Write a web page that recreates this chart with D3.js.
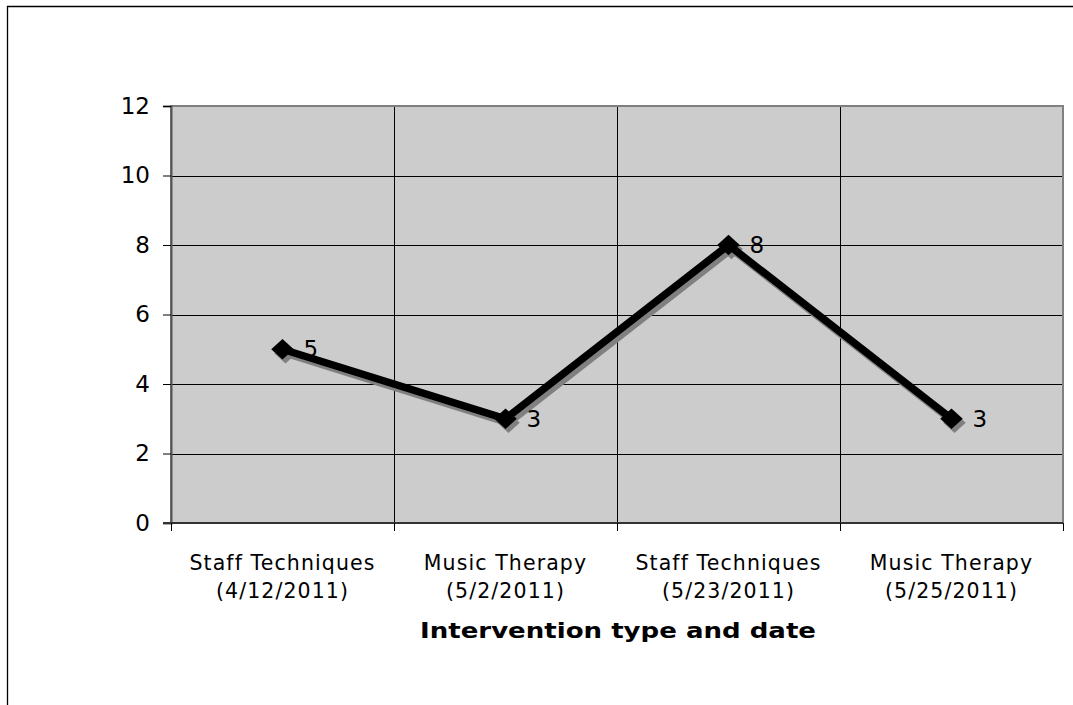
<html>
<head>
<script src="https://d3js.org/d3.v7.min.js"></script>
<style>
body { margin: 0; background: #fff; }
svg { font-family: "DejaVu Sans", Verdana, sans-serif; }
</style>
</head>
<body>
<div id="root"></div>
<script>
// datos del grafico
var categorias = ["Staff Techniques", "Music Therapy", "Staff Techniques", "Music Therapy"];
var fechas = ["(4/12/2011)", "(5/2/2011)", "(5/23/2011)", "(5/25/2011)"];
var valores = [5, 3, 8, 3];
var yTicks = [0, 2, 4, 6, 8, 10, 12];
var tituloX = "Intervention type and date";

var W = 1073, H = 705;
var pLeft = 171, pRight = 1063, pTop = 106, pBottom = 523;

var svg = d3.select("#root").append("svg")
  .attr("width", W).attr("height", H);

// marco exterior
svg.append("path")
  .attr("d", "M7.5," + H + "V6.5H" + W)
  .attr("fill", "none").attr("stroke", "#000").attr("stroke-width", 1.3);

var x = d3.scaleBand().domain(d3.range(valores.length)).range([pLeft, pRight]);
var y = d3.scaleLinear().domain([0, 12]).range([pBottom, pTop]);

// area de trazado
svg.append("rect")
  .attr("x", pLeft).attr("y", pTop)
  .attr("width", pRight - pLeft).attr("height", pBottom - pTop)
  .attr("fill", "#cccccc");

// lineas de cuadricula
svg.append("g").selectAll("line").data(yTicks.slice(1)).enter().append("line")
  .attr("x1", pLeft).attr("x2", pRight)
  .attr("y1", d => Math.round(y(d)) + 0.5).attr("y2", d => Math.round(y(d)) + 0.5)
  .attr("stroke", "#000").attr("stroke-width", 1);

svg.append("g").selectAll("line").data(d3.range(1, valores.length)).enter().append("line")
  .attr("x1", d => Math.round(x(d)) + 0.5).attr("x2", d => Math.round(x(d)) + 0.5)
  .attr("y1", pTop).attr("y2", pBottom)
  .attr("stroke", "#000").attr("stroke-width", 1);

// borde gris
svg.append("rect")
  .attr("x", pLeft).attr("y", pTop)
  .attr("width", pRight - pLeft).attr("height", pBottom - pTop)
  .attr("fill", "none").attr("stroke", "#808080").attr("stroke-width", 2);

// eje y
var yAxis = d3.axisLeft(y).tickValues(yTicks).tickSize(8).tickPadding(13);
svg.append("g")
  .attr("transform", "translate(" + pLeft + ",0)")
  .call(yAxis)
  .call(g => g.select(".domain").attr("stroke", "#555").attr("stroke-width", 2))
  .call(g => g.selectAll(".tick line").attr("stroke", "#000"))
  .call(g => g.selectAll("text").attr("font-size", 23).attr("fill", "#000")
    .attr("font-family", "DejaVu Sans, Verdana, sans-serif"));

// eje x
svg.append("line")
  .attr("x1", pLeft - 8).attr("x2", pRight)
  .attr("y1", pBottom).attr("y2", pBottom)
  .attr("stroke", "#333").attr("stroke-width", 2);
svg.append("g").selectAll("line").data(d3.range(0, valores.length + 1)).enter().append("line")
  .attr("x1", d => Math.round(d < valores.length ? x(d) : pRight) + 0.5)
  .attr("x2", d => Math.round(d < valores.length ? x(d) : pRight) + 0.5)
  .attr("y1", pBottom).attr("y2", pBottom + 8)
  .attr("stroke", "#000");

var cat = svg.append("g").selectAll("text").data(categorias).enter().append("text")
  .attr("text-anchor", "middle")
  .attr("font-size", 20.5)
  .attr("letter-spacing", 1.1)
  .attr("fill", "#000");
cat.append("tspan")
  .attr("x", (d, i) => x(i) + x.bandwidth() / 2)
  .attr("y", 570)
  .text(d => d);
cat.append("tspan")
  .attr("x", (d, i) => x(i) + x.bandwidth() / 2)
  .attr("y", 598)
  .text((d, i) => fechas[i]);

svg.append("text")
  .attr("x", (pLeft + pRight) / 2 + 1).attr("y", 638)
  .attr("text-anchor", "middle")
  .attr("font-size", 21).attr("font-weight", "bold")
  .attr("textLength", 396).attr("lengthAdjust", "spacingAndGlyphs")
  .text(tituloX);

// serie
var line = d3.line()
  .x((d, i) => x(i) + x.bandwidth() / 2)
  .y(d => y(d));

var diamante = d3.symbol().type(d3.symbolSquare).size(210);

// sombra
svg.append("path")
  .attr("d", line(valores))
  .attr("transform", "translate(3,4)")
  .attr("fill", "none").attr("stroke", "#808080").attr("stroke-width", 7.5)
  .attr("stroke-linejoin", "miter");
svg.append("g").selectAll("path").data(valores).enter().append("path")
  .attr("d", diamante)
  .attr("transform", (d, i) => "translate(" + (x(i) + x.bandwidth() / 2 + 3) + "," + (y(d) + 4) + ") scale(1.1,1) rotate(45)")
  .attr("fill", "#808080");

svg.append("path")
  .attr("d", line(valores))
  .attr("fill", "none").attr("stroke", "#000").attr("stroke-width", 7.5)
  .attr("stroke-linejoin", "miter");
svg.append("g").selectAll("path").data(valores).enter().append("path")
  .attr("d", diamante)
  .attr("transform", (d, i) => "translate(" + (x(i) + x.bandwidth() / 2) + "," + y(d) + ") scale(1.1,1) rotate(45)")
  .attr("fill", "#000");

// etiquetas de valor
svg.append("g").selectAll("text").data(valores).enter().append("text")
  .attr("x", (d, i) => x(i) + x.bandwidth() / 2 + 21)
  .attr("y", d => y(d) + 8)
  .attr("font-size", 23)
  .text(d => d);
</script>
</body>
</html>
